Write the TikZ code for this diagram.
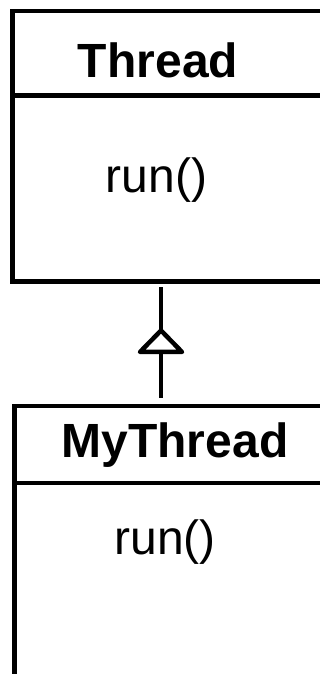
\documentclass[tikz,border=0pt]{standalone}
\usepackage{fontspec}
\setmainfont{Liberation Sans}
\usetikzlibrary{positioning}

\tikzset{
    classbox/.style={draw, line width=4.5pt, minimum width=340pt,
        anchor=north west, inner sep=0pt, outer sep=0pt},
    classname/.style={font=\fontsize{48}{58}\selectfont\bfseries,
        anchor=base, inner sep=0pt},
    method/.style={font=\fontsize{48}{58}\selectfont,
        anchor=base, inner sep=0pt},
    link/.style={line width=4.5pt}
}

\begin{document}
\begin{tikzpicture}[x=1pt,y=1pt]
\useasboundingbox (0,0) rectangle (320,674);
\clip (0,0) rectangle (320,674);

% Thread
\node (thread) [classbox, minimum height=270.5pt] at (12.5,663) {};
\coordinate (threaddiv) at (0,578.5);
\draw [link] (thread.west |- threaddiv) -- (thread.east |- threaddiv);
\node (threadname) [classname] at (158,596) {Thread};
\node (threadrun) [method] at (156.5,481) {run()};

% MyThread
\node (mythread) [classbox, minimum height=300pt] at (14.3,268) {};
\coordinate (mythreaddiv) at (0,191);
\draw [link] (mythread.west |- mythreaddiv) -- (mythread.east |- mythreaddiv);
\node (mythreadname) [classname] at (175,216) {MyThread};
\node (mythreadrun) [method] at (165,119) {run()};

% extends
\coordinate (arr) at (161,0);
\draw [link, shorten <=8pt, shorten >=5.5pt] (arr |- mythread.north) -- (arr |- thread.south);
\coordinate (head) at (161,322);
\draw [link, fill=white, line join=round] (head) -- ++(-21,0) -- ++(21,21.5) -- ++(21,-21.5) -- cycle;

\end{tikzpicture}
\end{document}
